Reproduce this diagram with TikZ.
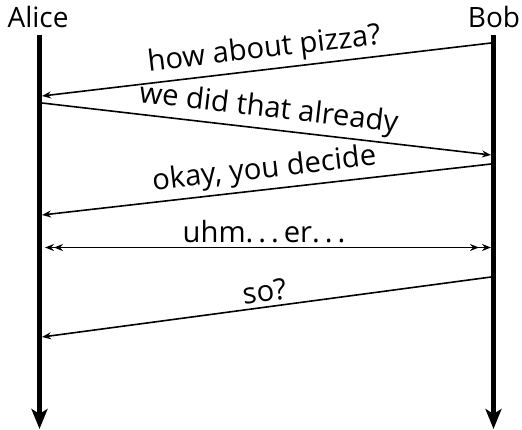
\documentclass[tikz,border=0pt]{standalone}
\usepackage{fontspec}
\setmainfont{Open Sans}
\usetikzlibrary{arrows.meta, positioning}
\newcommand{\spdots}{.\kern0.17em.\kern0.17em.\kern0.17em}

\begin{document}
\begin{tikzpicture}[x=0.5pt, y=-0.5pt, font=\fontsize{14}{16}\selectfont,
    lifeline/.style={line width=2.5pt, -{Stealth[length=10pt, width=8pt, inset=2.5pt]}},
    msg/.style={line width=0.8pt, -{Stealth[length=4.5pt, width=3.5pt]}},
    msgboth/.style={line width=0.8pt, {Stealth[length=4.5pt, width=3.5pt, sep=1.5pt]Stealth[length=4.5pt, width=3.5pt]}-{Stealth[length=4.5pt, width=3.5pt, sep=1.5pt]Stealth[length=4.5pt, width=3.5pt]}},
    lbl/.style={midway, above, sloped, inner sep=2pt, font=\fontsize{14.6}{16}\selectfont}]
      \useasboundingbox (0,0) rectangle (522,429);
      \node[anchor=base] (alice) at (38, 27) {Alice};
      \node[anchor=base] (bob) at (494, 27) {Bob};
      % lifelines
      \coordinate (atop) at (39.5, 35);
      \coordinate (abot) at (39.5, 429);
      \coordinate (btop) at (493.5, 35);
      \coordinate (bbot) at (493.5, 429);
      \draw[lifeline] (atop) -- (abot);
      \draw[lifeline] (btop) -- (bbot);
      % message ends
      \coordinate (b1) at (491, 43);
      \coordinate (a1) at (42, 96);
      \coordinate (a2) at (42, 103);
      \coordinate (b2) at (491, 155);
      \coordinate (b3) at (491, 164);
      \coordinate (a3) at (42, 215);
      \coordinate (a4) at (42, 247.5);
      \coordinate (b4) at (491, 247.5);
      \coordinate (b5) at (491, 277);
      \coordinate (a5) at (42, 337);
      \draw[msg] (b1) -- node[lbl] {how about pizza?} (a1);
      \draw[msg] (a2) -- node[lbl] {we did that already} (b2);
      \draw[msg] (b3) -- node[lbl] {okay, you decide} (a3);
      \draw[msgboth] (a4) -- node[lbl] {uhm\spdots er\spdots} (b4);
      \draw[msg] (b5) -- node[lbl] {so?} (a5);
    \end{tikzpicture}
\end{document}
